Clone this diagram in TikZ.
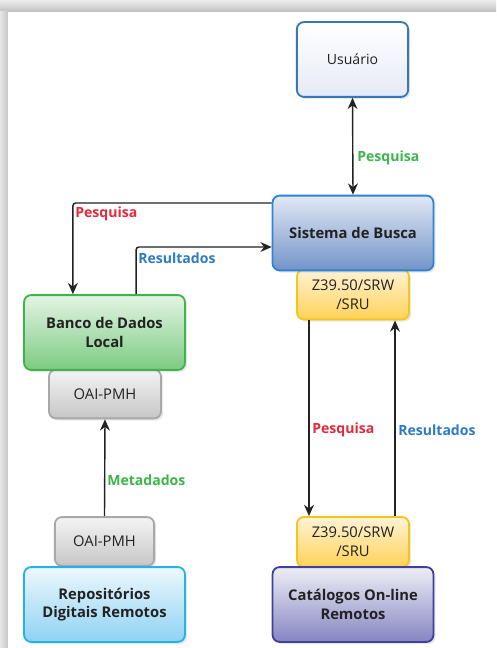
\documentclass[tikz,border=0pt]{standalone}
\usepackage{fontspec}
\setmainfont{Open Sans}
\usetikzlibrary{arrows.meta,shadows}

\definecolor{txtdark}{HTML}{222222}
\definecolor{lblgreen}{HTML}{3DB54A}
\definecolor{lblred}{HTML}{E42A3C}
\definecolor{lblblue}{HTML}{2E7BC4}
\definecolor{userline}{HTML}{3478B8}
\definecolor{userfill}{HTML}{E6EAF6}
\definecolor{searchline}{HTML}{2F84D6}
\definecolor{searchtop}{HTML}{E2E8F4}
\definecolor{searchbot}{HTML}{7394C8}
\definecolor{dbline}{HTML}{3DB54A}
\definecolor{dbtop}{HTML}{E4F4E4}
\definecolor{dbbot}{HTML}{7CCB82}
\definecolor{repoline}{HTML}{22B4E6}
\definecolor{repotop}{HTML}{EEF8FD}
\definecolor{repobot}{HTML}{8ED2F3}
\definecolor{catline}{HTML}{3F3F9E}
\definecolor{cattop}{HTML}{EEEEF6}
\definecolor{catbot}{HTML}{8585C2}
\definecolor{zline}{HTML}{F5C51C}
\definecolor{ztop}{HTML}{FFF3D6}
\definecolor{zbot}{HTML}{FFD257}
\definecolor{oailine}{HTML}{A8A8A8}
\definecolor{oaitop}{HTML}{F4F4F4}
\definecolor{oaibot}{HTML}{C6C6C6}

\begin{document}
\begin{tikzpicture}[
    x=0.025cm, y=-0.025cm,
    base/.style={rectangle, rounded corners=5pt, line width=1.3pt, align=center,
        text=txtdark, inner sep=2pt,
        drop shadow={opacity=0.18, shadow xshift=1.5pt, shadow yshift=-1.5pt}},
    bigbox/.style={base, minimum width=4.02cm, minimum height=1.87cm,
        font=\fontsize{10.5}{13}\selectfont\bfseries},
    smallbox/.style={base, minimum width=2.8cm, minimum height=1.25cm,
        font=\fontsize{10.5}{13.5}\selectfont},
    user/.style={bigbox, minimum width=2.78cm, font=\fontsize{10}{13}\selectfont,
        draw=userline, top color=white, bottom color=userfill},
    search/.style={bigbox, draw=searchline, top color=searchtop, bottom color=searchbot},
    localdb/.style={bigbox, draw=dbline, top color=dbtop, bottom color=dbbot},
    repo/.style={bigbox, draw=repoline, top color=repotop, bottom color=repobot},
    catalog/.style={bigbox, draw=catline, top color=cattop, bottom color=catbot},
    zproto/.style={smallbox, draw=zline, top color=ztop, bottom color=zbot},
    oai/.style={smallbox, draw=oailine, top color=oaitop, bottom color=oaibot},
    flow/.style={-{Stealth[length=8pt,width=7pt]}, line width=1pt, draw=txtdark, rounded corners=2pt},
    tag/.style={font=\fontsize{10}{12}\selectfont\bfseries, anchor=west, inner sep=0pt}
]

% Frame
\useasboundingbox (0,0) rectangle (496,648);
\fill[gray!35] (0,0) rectangle (496,648);
\shade[top color=gray!15, bottom color=gray!50] (0,0) rectangle (496,12);
\shade[left color=gray!20, right color=gray!45] (0,12) rectangle (8,648);
\fill[white] (8,12) rectangle (496,648);

% Protocol boxes (under the main boxes)
\node[zproto] (zsup) at (353,294.5) {Z39.50/SRW\\/SRU};
\node[oai, minimum height=1.22cm] (oaisup) at (105,394) {OAI-PMH};
\node[oai, minimum width=2.48cm, minimum height=1.22cm] (oaiinf) at (104.5,541.5) {OAI-PMH};
\node[zproto] (zinf) at (353,542) {Z39.50/SRW\\/SRU};

% Main boxes
\node[user] (usuario) at (352.5,59.5) {Usuário};
\node[search] (busca) at (353,233) {Sistema de Busca};
\node[localdb] (banco) at (104.5,332.5) {Banco de Dados\\Local};
\node[repo] (repos) at (104.5,604.5) {Repositórios\\Digitais Remotos};
\node[catalog] (catalogos) at (353,604.5) {Catálogos On-line\\Remotos};

% Connections
\draw[flow, {Stealth[length=8pt,width=7pt]}-{Stealth[length=8pt,width=7pt]}] (usuario.south) -- (busca.north);
\draw[flow] ([yshift=0.75cm]busca.west) -| ([xshift=-0.79cm]banco.north);
\draw[flow] ([xshift=0.79cm]banco.north) |- ([yshift=-0.35cm]busca.west);
\draw[flow] ([xshift=-1.1cm]zsup.south) -- ([xshift=-1.1cm]zinf.north);
\draw[flow] ([xshift=1.05cm]zinf.north) -- ([xshift=1.05cm]zsup.south);
\draw[flow] (oaiinf.north) -- (oaisup.south);

% Labels
\node[tag, text=lblgreen] (lpesq1) at (357,158) {Pesquisa};
\node[tag, text=lblred] (lpesq2) at (75,214) {Pesquisa};
\node[tag, text=lblblue] (lres1) at (138,258) {Resultados};
\node[tag, text=lblred] (lpesq3) at (312,430) {Pesquisa};
\node[tag, text=lblblue] (lres2) at (398,430) {Resultados};
\node[tag, text=lblgreen] (lmeta) at (107,480) {Metadados};
\end{tikzpicture}
\end{document}
